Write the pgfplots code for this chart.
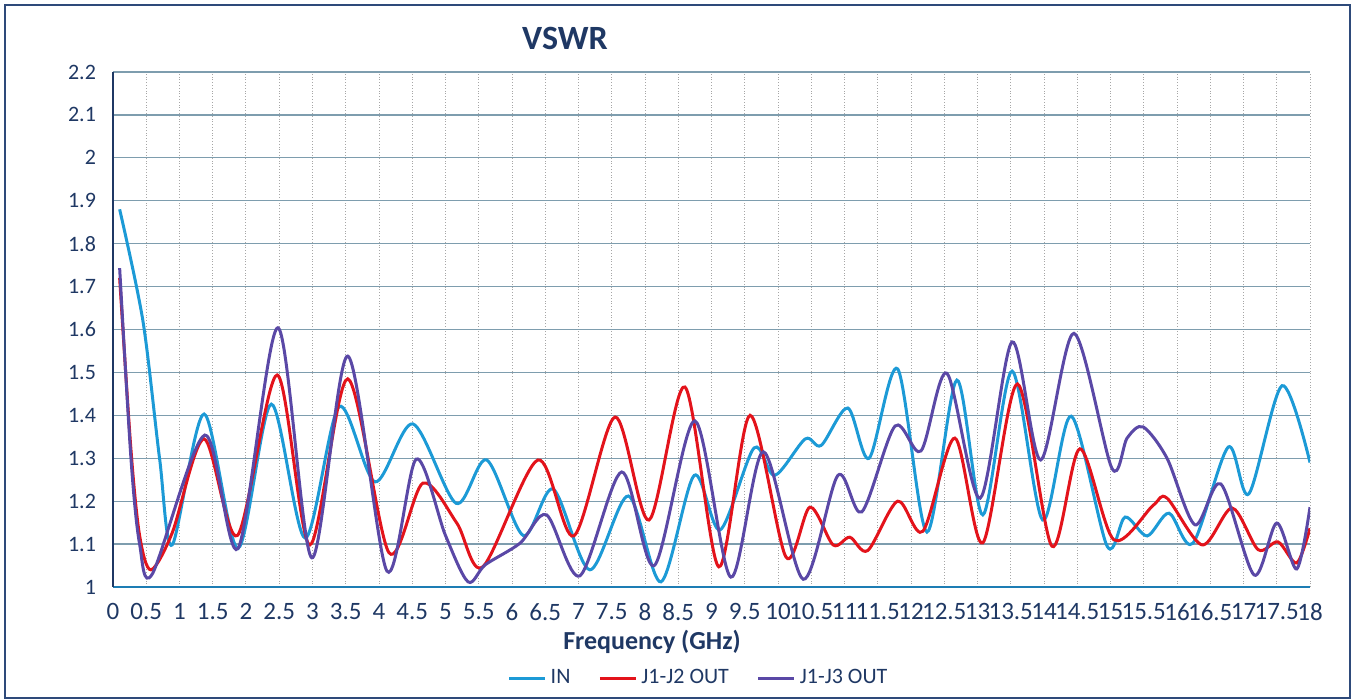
\documentclass[border=0pt]{standalone}
\usepackage{fontspec}
\setmainfont{Carlito}
\usepackage{pgfplots}
\pgfplotsset{compat=1.18}
\definecolor{cin}{HTML}{1C9AD6}
\definecolor{cjtwo}{HTML}{E3131B}
\definecolor{cjthree}{HTML}{5A48A6}
\definecolor{navy}{HTML}{1F3864}
\definecolor{hgrid}{HTML}{7E9DAE}
\definecolor{frame}{HTML}{2E4A7A}
\begin{document}
\begin{tikzpicture}
\path[use as bounding box] (-56.5pt,-56.5pt) rectangle (622pt,293.5pt);
\draw[frame, line width=0.8pt] (-54pt,-55.5pt) rectangle (618.5pt,291pt);
\begin{axis}[
  at={(0pt,0pt)}, anchor=south west,
  scale only axis, width=598.5pt, height=257.5pt,
  xmin=0, xmax=18, ymin=1, ymax=2.2,
  xtick distance=0.5, ytick distance=0.1,
  axis x line*=bottom, axis y line*=left,
  x axis line style={-, line width=1.2pt, color=cin!70!navy},
  y axis line style={-, line width=1.2pt, color=navy},
  major tick length=0pt,
  xmajorgrids, ymajorgrids,
  x grid style={gray!70, densely dotted, line width=0.5pt},
  y grid style={hgrid, line width=0.6pt},
  /pgf/number format/assume math mode=true,
  yticklabel style={font=\fontsize{11}{13}\selectfont, text=navy, xshift=-5pt},
  xticklabel style={font=\fontsize{12.5}{14}\selectfont, text=navy, yshift=-8pt, inner sep=0pt},
  legend style={at={(0.49,-0.177)}, anchor=center, draw=none, fill=none,
    font=\fontsize{11}{13}\selectfont, text=navy,
    /tikz/every even column/.append style={column sep=12pt}},
  legend columns=3,
  legend image code/.code={\draw[#1] (0pt,0pt) -- (18pt,0pt);},
  every axis plot/.append style={line width=1.5pt, smooth, tension=0.5, mark=none},
]
\addplot[cin] coordinates {
(0.1,1.88)(0.45,1.62)(0.7,1.30)(0.89,1.098)(1.37,1.403)(1.88,1.09)(2.38,1.426)(2.89,1.114)(3.40,1.42)(3.94,1.245)(4.51,1.38)(5.16,1.195)(5.62,1.296)(6.17,1.12)(6.62,1.228)(7.17,1.04)(7.75,1.212)(8.24,1.012)(8.74,1.26)(9.13,1.133)(9.64,1.324)(9.95,1.26)(10.41,1.345)(10.65,1.33)(11.05,1.417)(11.37,1.30)(11.80,1.508)(12.24,1.128)(12.69,1.482)(13.08,1.168)(13.52,1.503)(13.98,1.156)(14.41,1.398)(14.95,1.095)(15.22,1.163)(15.55,1.119)(15.88,1.172)(16.24,1.102)(16.77,1.326)(17.08,1.217)(17.58,1.469)(18.0,1.29)
};
\addlegendentry{IN}
\addplot[cjtwo] coordinates {
(0.1,1.72)(0.27,1.32)(0.4,1.12)(0.57,1.04)(0.89,1.126)(1.37,1.345)(1.87,1.12)(2.47,1.494)(2.96,1.098)(3.53,1.485)(4.15,1.08)(4.66,1.242)(5.17,1.149)(5.56,1.047)(6.39,1.296)(6.93,1.119)(7.55,1.396)(8.06,1.156)(8.60,1.466)(9.11,1.047)(9.58,1.40)(10.12,1.07)(10.48,1.186)(10.83,1.098)(11.08,1.116)(11.35,1.085)(11.80,1.20)(12.18,1.13)(12.66,1.347)(13.08,1.103)(13.60,1.473)(14.12,1.095)(14.54,1.322)(15.05,1.11)(15.64,1.19)(15.85,1.207)(16.38,1.098)(16.83,1.184)(17.22,1.087)(17.52,1.105)(17.8,1.056)(18.0,1.137)
};
\addlegendentry{J1-J2 OUT}
\addplot[cjthree] coordinates {
(0.1,1.743)(0.27,1.30)(0.4,1.1)(0.59,1.03)(1.38,1.354)(1.88,1.09)(2.48,1.604)(2.99,1.068)(3.53,1.538)(4.12,1.037)(4.56,1.298)(5.0,1.12)(5.34,1.012)(5.6,1.052)(6.12,1.102)(6.52,1.168)(7.02,1.026)(7.65,1.268)(8.14,1.05)(8.75,1.387)(9.29,1.023)(9.78,1.315)(10.38,1.018)(10.9,1.26)(11.26,1.175)(11.76,1.375)(12.15,1.317)(12.54,1.498)(13.04,1.207)(13.52,1.571)(13.95,1.296)(14.45,1.591)(15.02,1.277)(15.25,1.347)(15.49,1.373)(15.85,1.30)(16.27,1.145)(16.66,1.24)(17.16,1.028)(17.5,1.149)(17.8,1.042)(18.0,1.186)
};
\addlegendentry{J1-J3 OUT}
\end{axis}
\node[font=\fontsize{17}{20}\bfseries, text=navy] at (226pt,274.5pt) {VSWR};
\node[font=\fontsize{13}{15}\bfseries, text=navy] at (269.5pt,-27.5pt) {Frequency (GHz)};
\end{tikzpicture}
\end{document}
